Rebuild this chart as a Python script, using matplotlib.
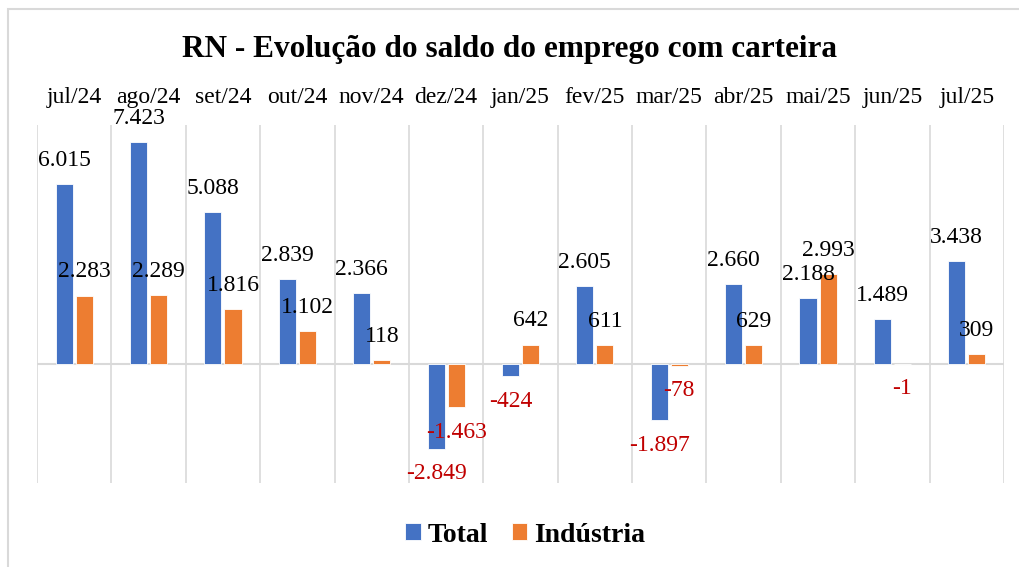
import matplotlib
matplotlib.use("Agg")
import matplotlib.pyplot as plt
from matplotlib.patches import Rectangle
import numpy as np

categories = ["jul/24", "ago/24", "set/24", "out/24", "nov/24", "dez/24", "jan/25",
              "fev/25", "mar/25", "abr/25", "mai/25", "jun/25", "jul/25"]
total = [6015, 7423, 5088, 2839, 2366, -2849, -424, 2605, -1897, 2660, 2188, 1489, 3438]
industria = [2283, 2289, 1816, 1102, 118, -1463, 642, 611, -78, 629, 2993, -1, 309]
series_names = ["Total", "Indústria"]

plt.rcParams['font.family'] = ['Liberation Serif', 'DejaVu Serif']

W, H = 1019, 567
fig = plt.figure(figsize=(W / 100, H / 100), dpi=100)
fig.patch.set_facecolor("white")

# outer chart border (top and left visible)
fig.patches.append(Rectangle((8 / W, -0.1), 1.2, 1 - 9 / H + 0.1, transform=fig.transFigure,
                             fill=False, edgecolor="#D9D9D9", linewidth=1.5, zorder=0))

left, right = 37 / W, 1004 / W
bottom, top = 1 - 483 / H, 1 - 125 / H
ax = fig.add_axes([left, bottom, right - left, top - bottom])

x = np.arange(len(categories))
bw = 0.23
off = 0.135
blue = "#4472C4"
orange = "#ED7D31"
red = "#C00000"

b1 = ax.bar(x - off, total, bw, color=blue, edgecolor="white", linewidth=0.6, label=series_names[0], zorder=3)
b2 = ax.bar(x + off, industria, bw, color=orange, edgecolor="white", linewidth=0.6, label=series_names[1], zorder=3)

def fmt(v):
    s = f"{abs(v):,}".replace(",", ".")
    return ("-" if v < 0 else "") + s

for xs, vals in ((x - off, total), (x + off, industria)):
    for xi, v in zip(xs, vals):
        dy = 17 if v >= 0 else -18
        ax.annotate(fmt(v), (xi, v), xytext=(0, dy), textcoords="offset points",
                    ha="center", va="center", fontsize=17,
                    color="black" if v >= 0 else red, zorder=5)

ax.set_xlim(-0.5, len(categories) - 0.5)
ax.set_ylim(-4000, 8000)
for gx in np.arange(-0.5, len(categories), 1.0):
    ax.axvline(gx, color="#D9D9D9", linewidth=1.2, zorder=1)
ax.axhline(0, color="#D9D9D9", linewidth=1.5, zorder=2)

ax.xaxis.tick_top()
ax.set_xticks(x)
ax.set_xticklabels(categories, fontsize=17)
ax.tick_params(axis="x", length=0, pad=12)
ax.set_yticks([])
for s in ax.spines.values():
    s.set_visible(False)

fig.text(0.5, 1 - 50 / H, "RN - Evolução do saldo do emprego com carteira",
         ha="center", va="center", fontsize=22.5, fontweight="bold")

leg = fig.legend(handles=[b1, b2], labels=series_names, loc="center",
                 bbox_to_anchor=(525 / W, 1 - 535 / H), ncol=2, frameon=False,
                 prop={"weight": "bold", "size": 20}, handlelength=0.55, handleheight=0.55,
                 handletextpad=0.25, columnspacing=0.85)

fig.savefig("out.png", dpi=100, facecolor="white")
